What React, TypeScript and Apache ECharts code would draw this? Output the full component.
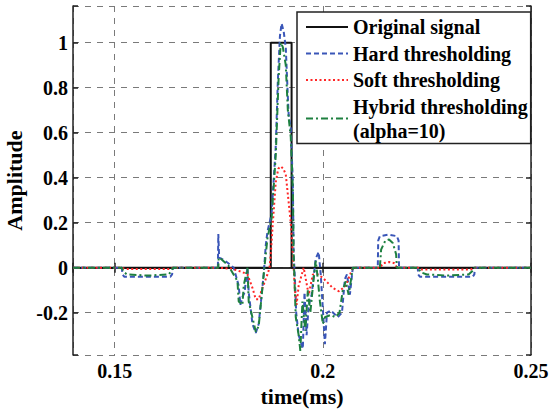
import React, { useEffect, useRef } from "react";
import * as echarts from "echarts";

const xRange = [0.14, 0.25];
const yRange = [-0.388, 1.163];
const xTickLabels = [0.15, 0.2, 0.25];
const yTickLabels = [-0.2, 0, 0.2, 0.4, 0.6, 0.8, 1];

const seriesNames = [
  "Original signal",
  "Hard thresholding",
  "Soft thresholding",
  "Hybrid thresholding\n(alpha=10)",
];

const originalSignal = [
  [0.14, 0], [0.1875, 0], [0.1875, 1], [0.1925, 1], [0.1925, 0], [0.25, 0],
];

const hardSignal = [
  [0.14, 0], [0.1517, 0], [0.1519, -0.03], [0.1523, -0.04], [0.1634, -0.04], [0.1638, -0.03], [0.164, 0],
  [0.1748, 0], [0.1749, 0.15], [0.1751, 0.045], [0.1766, 0.03], [0.1786, 0], [0.1798, -0.08], [0.1802, -0.165],
  [0.1807, -0.13], [0.1812, -0.11], [0.1819, 0], [0.1822, -0.11], [0.1831, -0.25], [0.1839, -0.29], [0.1846, -0.25],
  [0.1858, -0.03], [0.1863, 0.1], [0.1867, 0.16], [0.1877, 0.24], [0.1887, 0.54], [0.1892, 0.83], [0.1897, 1.03],
  [0.1901, 1.085], [0.1906, 1.05], [0.1911, 0.98], [0.1916, 0.76], [0.1918, 0.68], [0.1923, 0.62], [0.1928, 0.38],
  [0.193, 0.06], [0.1933, -0.05], [0.1936, -0.2], [0.1942, -0.3], [0.1952, -0.36], [0.1956, -0.11], [0.1961, -0.3],
  [0.1966, -0.17], [0.1973, -0.12], [0.1983, 0.04], [0.199, 0.07], [0.1995, -0.03], [0.2, -0.18], [0.2005, -0.34],
  [0.201, -0.2], [0.2019, -0.19], [0.2036, -0.22], [0.2046, -0.2], [0.2053, -0.05], [0.2058, -0.03], [0.2065, -0.12],
  [0.2072, 0],
  [0.2132, 0], [0.2133, 0.12], [0.2137, 0.14], [0.2158, 0.147], [0.2178, 0.14], [0.2182, 0.12], [0.2183, 0],
  [0.2228, 0], [0.2229, -0.03], [0.2233, -0.04], [0.236, -0.04], [0.2364, -0.03], [0.2365, 0], [0.25, 0],
];

const softSignal = [
  [0.14, 0], [0.1517, 0], [0.1525, -0.006], [0.163, -0.006], [0.164, 0], [0.1749, 0], [0.1783, -0.005],
  [0.1807, -0.02], [0.1819, -0.03], [0.1831, -0.09], [0.1839, -0.14], [0.1846, -0.14], [0.1855, -0.09],
  [0.1867, -0.03], [0.1872, 0], [0.1875, 0.06], [0.188, 0.2], [0.1887, 0.38], [0.1893, 0.44], [0.1899, 0.45],
  [0.1905, 0.44], [0.1911, 0.415], [0.1918, 0.29], [0.1923, 0.2], [0.1928, 0.06], [0.1933, -0.1], [0.1937, -0.165],
  [0.1942, -0.08], [0.1954, 0], [0.1966, -0.12], [0.1976, -0.03], [0.1988, -0.03], [0.2, -0.045], [0.2024, -0.09],
  [0.2039, -0.105], [0.2055, -0.08], [0.2072, 0],
  [0.2137, 0], [0.2145, 0.02], [0.2159, 0.025], [0.2172, 0.02], [0.2178, 0], [0.2229, 0], [0.2235, -0.008],
  [0.2355, -0.008], [0.2364, 0], [0.25, 0],
];

const hybridSignal = [
  [0.14, 0], [0.1517, 0], [0.1522, -0.02], [0.153, -0.03], [0.158, -0.035], [0.163, -0.03], [0.1638, -0.01], [0.164, 0],
  [0.1749, 0], [0.175, 0.045], [0.1755, 0.04], [0.1773, 0.01], [0.1795, -0.06], [0.1798, -0.15], [0.1807, -0.165],
  [0.181, -0.08], [0.1819, 0], [0.1822, -0.15], [0.1839, -0.285], [0.1846, -0.26], [0.1858, -0.03], [0.1867, 0.13],
  [0.1877, 0.22], [0.1887, 0.5], [0.1894, 0.85], [0.1899, 1.0], [0.1904, 0.98], [0.1911, 0.9], [0.1916, 0.7],
  [0.1923, 0.58], [0.1928, 0.35], [0.193, 0.05], [0.1935, -0.22], [0.1942, -0.3], [0.1946, -0.37], [0.1951, -0.15],
  [0.1958, -0.28], [0.1964, -0.1], [0.197, -0.2], [0.1978, -0.05], [0.1983, 0.03], [0.1988, -0.05], [0.1993, -0.15],
  [0.2, -0.25], [0.2005, -0.22], [0.2019, -0.21], [0.203, -0.22], [0.204, -0.2], [0.2048, -0.1], [0.2055, -0.06],
  [0.2062, -0.12], [0.2068, -0.05], [0.2072, 0],
  [0.2137, 0], [0.214, 0.08], [0.215, 0.12], [0.2159, 0.125], [0.2168, 0.11], [0.2176, 0.06], [0.2178, 0],
  [0.2229, 0], [0.2235, -0.02], [0.225, -0.03], [0.23, -0.035], [0.235, -0.03], [0.2362, -0.01], [0.2364, 0], [0.25, 0],
];

const FONT = "'Liberation Serif', 'Times New Roman', serif";

function tickFormatter(ticks: number[]) {
  return (v: number) => {
    const hit = ticks.find((t) => Math.abs(t - v) < 1e-6);
    return hit === undefined ? "" : String(hit);
  };
}

export default function App() {
  const ref = useRef<HTMLDivElement>(null);
  useEffect(() => {
    if (!ref.current) return;
    const chart = echarts.init(ref.current, undefined, { renderer: "svg" });
    const axisLineStyle = { color: "#222", width: 1.5 };
    const splitLineStyle = { color: "#7a7a7a", width: 1, type: [6, 6] as any };
    const labelStyle = {
      fontFamily: FONT,
      fontWeight: "bold" as const,
      fontSize: 20,
      color: "#000",
    };
    chart.setOption({
      animation: false,
      backgroundColor: "#fff",
      grid: {
        left: 73,
        right: 19,
        top: 6,
        bottom: 55,
        containLabel: false,
        outerBoundsMode: "none",
      },
      legend: {
        orient: "vertical",
        left: 297,
        top: 12,
        padding: [3, 3, 1, 8],
        itemGap: 2.5,
        itemWidth: 42,
        itemHeight: 14,
        backgroundColor: "#fff",
        borderColor: "#222",
        borderWidth: 1.5,
        itemStyle: { opacity: 0 },
        textStyle: {
          fontFamily: FONT,
          fontWeight: "bold",
          fontSize: 20,
          lineHeight: 24,
          color: "#000",
        },
        data: seriesNames,
      },
      xAxis: [
        {
          type: "value",
          min: xRange[0],
          max: xRange[1],
          splitNumber: 2,
          position: "bottom",
          axisLine: { show: true, lineStyle: axisLineStyle },
          axisTick: { show: true, inside: true, length: 5, lineStyle: axisLineStyle },
          axisLabel: { ...labelStyle, margin: 6, formatter: tickFormatter(xTickLabels) },
          splitLine: { show: true, lineStyle: splitLineStyle },
          name: "time(ms)",
          nameLocation: "middle",
          nameGap: 30,
          nameTextStyle: { fontFamily: FONT, fontWeight: "bold", fontSize: 22, color: "#000" },
        },
        {
          type: "value",
          min: xRange[0],
          max: xRange[1],
          splitNumber: 2,
          position: "top",
          axisLine: { show: true, lineStyle: axisLineStyle },
          axisTick: { show: true, inside: true, length: 5, lineStyle: axisLineStyle },
          axisLabel: { show: false },
          splitLine: { show: false },
        },
      ],
      yAxis: [
        {
          type: "value",
          min: yRange[0],
          max: yRange[1],
          splitNumber: 8,
          position: "left",
          axisLine: { show: true, lineStyle: axisLineStyle },
          axisTick: { show: true, inside: true, length: 5, lineStyle: axisLineStyle },
          axisLabel: { ...labelStyle, margin: 5, formatter: tickFormatter(yTickLabels) },
          splitLine: { show: true, lineStyle: splitLineStyle },
          name: "Amplitude",
          nameLocation: "middle",
          nameGap: 45,
          nameTextStyle: { fontFamily: FONT, fontWeight: "bold", fontSize: 22, color: "#000" },
        },
        {
          type: "value",
          min: yRange[0],
          max: yRange[1],
          splitNumber: 8,
          position: "right",
          axisLine: { show: true, lineStyle: axisLineStyle },
          axisTick: { show: true, inside: true, length: 5, lineStyle: axisLineStyle },
          axisLabel: { show: false },
          splitLine: { show: false },
        },
      ],
      series: [
        {
          name: seriesNames[0],
          type: "line",
          data: originalSignal,
          symbol: "none",
          lineStyle: { color: "#111", width: 2, type: "solid" },
          itemStyle: { color: "#111" },
          z: 2,
        },
        {
          name: seriesNames[1],
          type: "line",
          data: hardSignal,
          symbol: "none",
          lineStyle: { color: "#3a56b8", width: 2, type: [5, 3] },
          itemStyle: { color: "#3a56b8" },
          z: 3,
        },
        {
          name: seriesNames[2],
          type: "line",
          data: softSignal,
          symbol: "none",
          lineStyle: { color: "#ff2626", width: 2, type: [2, 2.5] },
          itemStyle: { color: "#ff2626" },
          z: 4,
        },
        {
          name: seriesNames[3],
          type: "line",
          data: hybridSignal,
          symbol: "none",
          lineStyle: { color: "#1e8040", width: 2, type: [7, 3, 2, 3] },
          itemStyle: { color: "#1e8040" },
          z: 5,
        },
      ],
    });
    return () => chart.dispose();
  }, []);
  return (
    <div
      ref={ref}
      style={{ position: "absolute", left: 0, top: 0, width: 550, height: 410 }}
    />
  );
}
